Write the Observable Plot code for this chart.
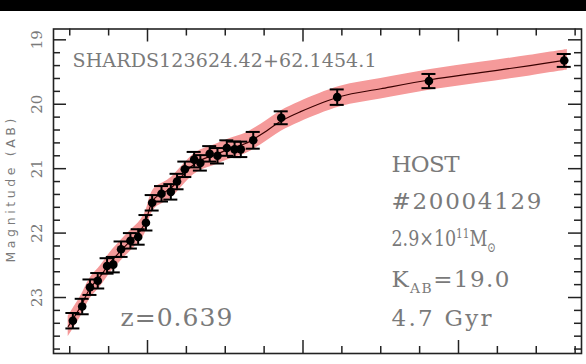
<!DOCTYPE html>
<html><head><meta charset="utf-8">
<script src="https://cdn.jsdelivr.net/npm/d3@7"></script>
<script src="https://cdn.jsdelivr.net/npm/@observablehq/plot@0.6"></script>
<style>
body{margin:0;background:#fff;}
#topbar{height:11px;background:#000;}
</style></head><body>
<div id="topbar"></div>
<div id="chart"></div>
<script>
// Observed photometry (x in plot units, AB magnitude, 1-sigma error)
const obsX   = [0.52,0.58,0.63,0.68,0.74,0.78,0.83,0.89,0.94,0.99,1.03,1.09,1.15,1.19,1.24,1.30,1.34,1.40,1.45,1.51,1.56,1.60,1.68,1.86,2.22,2.81,3.68];
const obsMag = [23.36,23.14,22.84,22.74,22.51,22.49,22.25,22.12,22.06,21.84,21.53,21.39,21.36,21.20,21.01,20.86,20.91,20.77,20.80,20.68,20.70,20.70,20.56,20.21,19.89,19.64,19.32];
const obsErr = [0.12,0.12,0.12,0.12,0.12,0.12,0.12,0.12,0.12,0.12,0.12,0.12,0.12,0.12,0.12,0.12,0.12,0.12,0.12,0.12,0.12,0.12,0.13,0.10,0.12,0.11,0.10];
// Best-fit model SED
const modelX   = [0.49,0.57,0.63,0.70,0.76,0.83,0.89,0.955,0.99,1.02,1.05,1.12,1.16,1.21,1.28,1.34,1.44,1.53,1.63,1.73,1.86,1.98,2.24,2.50,2.82,3.14,3.46,3.70];
const modelMag = [23.45,23.14,22.86,22.66,22.46,22.27,22.12,21.96,21.81,21.57,21.45,21.35,21.28,21.15,20.97,20.87,20.78,20.69,20.61,20.47,20.26,20.12,19.88,19.76,19.62,19.51,19.40,19.31];
const bandHalfWidth = 0.16;
// Axis ticks
const yMajor = [19,20,21,22,23];
const yMinor = [19.2,19.4,19.6,19.8,20.2,20.4,20.6,20.8,21.2,21.4,21.6,21.8,22.2,22.4,22.6,22.8,23.2,23.4,23.6,23.8];
const xMajor = [1,2,3];
const xMinor = [0.5,0.75,1.25,1.5,1.75,2.25,2.5,2.75,3.25,3.5,3.75];
// Labels
const yTitle = "Magnitude (AB)";
const objName = "SHARDS123624.42+62.1454.1";
const redshiftLabel = "z=0.639";
const infoLines = ["HOST", "#20004129", "2.9×10^{11}M_{⊙}", "K_{AB}=19.0", "4.7 Gyr"];
const infoMag = [20.93, 21.51, 22.09, 22.72, 23.33];

const obs = obsX.map((x, i) => ({x, m: obsMag[i], e: obsErr[i]}));
const model = modelX.map((x, i) => ({x, m: modelMag[i]}));
const info = infoLines.map((t, i) => ({t, m: infoMag[i]}));

const frameW = 586 - 53 - 5, frameH = 353 - 17.5 - 11;
const capHalf = 0.045;
const gray = "#7a7a7a";
// typographic fitting (rendered text lengths, px) to mimic the original's font metrics
const fitWidth = new Map([
  [yTitle, 144],
  [objName, 304],
  [redshiftLabel, 112],
  ["HOST", 68],
  ["#20004129", 150],
  ["K_{AB}=19.0", 118],
  ["4.7 Gyr", 100]
]);
const condense = new Map([["2.9×10^{11}M_{⊙}", 0.76]]);

const plot = Plot.plot({
  width: 586, height: 353,
  marginTop: 17.5, marginBottom: 11, marginLeft: 53, marginRight: 5,
  x: {domain: [0.3955, 3.791], axis: null},
  y: {domain: [18.832, 23.869], reverse: true, axis: null},
  style: {background: "white", fontFamily: "DejaVu Serif"},
  marks: [
    Plot.areaY(model, {x: "x", y1: d => d.m - bandHalfWidth, y2: d => d.m + bandHalfWidth, fill: "#f59a9a", curve: "catmull-rom"}),
    Plot.line(model, {x: "x", y: "m", stroke: "#3a0000", strokeWidth: 1.2, curve: "catmull-rom"}),
    Plot.ruleX(obs, {x: "x", y1: d => d.m - d.e, y2: d => d.m + d.e, stroke: "#000", strokeWidth: 2}),
    Plot.ruleY(obs, {y: d => d.m - d.e, x1: d => d.x - capHalf, x2: d => d.x + capHalf, stroke: "#000", strokeWidth: 2}),
    Plot.ruleY(obs, {y: d => d.m + d.e, x1: d => d.x - capHalf, x2: d => d.x + capHalf, stroke: "#000", strokeWidth: 2}),
    Plot.dot(obs, {x: "x", y: "m", r: 4.3, fill: "#000", stroke: "none"}),
    // ticks (inward)
    Plot.tickY(yMajor, {y: d => d, insetRight: frameW - 13, stroke: "#222", strokeWidth: 1.5}),
    Plot.tickY(yMinor, {y: d => d, insetRight: frameW - 7, stroke: "#222", strokeWidth: 1.5}),
    Plot.tickY(yMajor, {y: d => d, insetLeft: frameW - 13, stroke: "#222", strokeWidth: 1.5}),
    Plot.tickY(yMinor, {y: d => d, insetLeft: frameW - 7, stroke: "#222", strokeWidth: 1.5}),
    Plot.tickX(xMajor, {x: d => d, insetTop: frameH - 13, stroke: "#222", strokeWidth: 1.5}),
    Plot.tickX(xMinor, {x: d => d, insetTop: frameH - 7, stroke: "#222", strokeWidth: 1.5}),
    Plot.tickX(xMajor, {x: d => d, insetBottom: frameH - 13, stroke: "#222", strokeWidth: 1.5}),
    Plot.tickX(xMinor, {x: d => d, insetBottom: frameH - 7, stroke: "#222", strokeWidth: 1.5}),
    Plot.frame({stroke: "#222", strokeWidth: 1.6}),
    // tick labels
    Plot.text(yMajor, {y: d => d, text: d => String(d), frameAnchor: "left", dx: -16, rotate: -90, textAnchor: "middle", lineAnchor: "middle", fontSize: 15, fill: gray}),
    Plot.text([yTitle], {text: d => d, y: 21.34, frameAnchor: "left", dx: -43, rotate: -90, textAnchor: "middle", lineAnchor: "middle", fontSize: 12.5, fill: gray, fontFamily: "DejaVu Sans"}),
    // annotations
    Plot.text([objName], {text: d => d, x: 0.518, y: 19.32, textAnchor: "start", lineAnchor: "middle", fontSize: 19, fill: gray}),
    Plot.text([redshiftLabel], {text: d => d, x: 0.826, y: 23.32, textAnchor: "start", lineAnchor: "middle", fontSize: 25, fill: gray}),
    Plot.text(info, {text: "t", x: 2.569, y: "m", textAnchor: "start", lineAnchor: "middle", fontSize: 23, fill: gray})
  ]
});

// Fit lengths and render ^{..} / _{..} as super/subscript tspans
d3.select(plot).selectAll("text").each(function() {
  const t = this.textContent;
  const el = d3.select(this);
  if (fitWidth.has(t)) el.attr("textLength", fitWidth.get(t)).attr("lengthAdjust", "spacing");
  if (condense.has(t)) {
    const k = condense.get(t);
    const xa = this.getAttribute("x");
    if (xa != null) el.attr("x", +xa / k);
    el.attr("transform", (this.getAttribute("transform") || "") + ` scale(${k},1)`);
  }
  if (!/[\^_]\{/.test(t)) return;
  const fs = parseFloat(this.getAttribute("font-size") || this.parentNode.getAttribute("font-size") || 23);
  el.text(null);
  const re = /([\^_])\{([^}]*)\}|([^\^_]+)/g;
  let m, shift = 0;
  while ((m = re.exec(t))) {
    if (m[3]) {
      el.append("tspan").attr("dy", -shift).text(m[3]);
      shift = 0;
    } else {
      const s = m[1] === "^" ? -0.38 * fs : 0.25 * fs;
      el.append("tspan").attr("dy", s - shift).attr("font-size", 0.6 * fs).text(m[2]);
      shift = s;
    }
  }
});

document.getElementById("chart").appendChild(plot);
</script>
</body></html>
